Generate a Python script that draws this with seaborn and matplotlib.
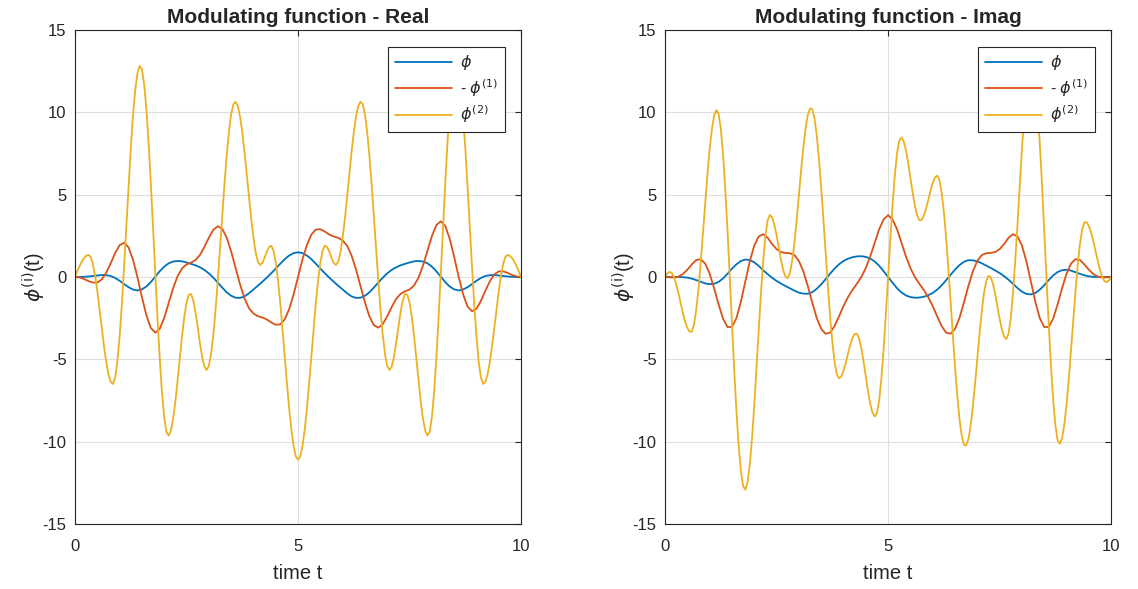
import matplotlib
matplotlib.use("Agg")
import matplotlib.pyplot as plt
import numpy as np
import pandas as pd
import seaborn as sns

# sample times: phi and -phi' every 0.1, phi'' every 0.05 (it moves faster)
t = np.round(np.arange(101) * 0.1, 2)
t_fine = np.round(np.arange(201) * 0.05, 2)

# real part: phi, -phi', phi''
phi_re = [
    0.00, 0.00, 0.01, 0.03, 0.06, 0.09, 0.12, 0.11, 0.06, -0.06,
    -0.23, -0.43, -0.62, -0.76, -0.82, -0.75, -0.58, -0.31, 0.02, 0.35,
    0.63, 0.83, 0.94, 0.97, 0.95, 0.88, 0.80, 0.71, 0.59, 0.43,
    0.22, -0.04, -0.34, -0.64, -0.93, -1.14, -1.26, -1.27, -1.18, -0.99,
    -0.76, -0.53, -0.29, -0.04, 0.23, 0.51, 0.80, 1.08, 1.30, 1.45,
    1.50,
    1.45, 1.30, 1.08, 0.80, 0.51, 0.23, -0.04, -0.29, -0.53, -0.76,
    -0.99, -1.18, -1.27, -1.26, -1.14, -0.93, -0.64, -0.34, -0.04, 0.22,
    0.43, 0.59, 0.71, 0.80, 0.88, 0.95, 0.97, 0.94, 0.83, 0.63,
    0.35, 0.02, -0.31, -0.58, -0.75, -0.82, -0.76, -0.62, -0.43, -0.23,
    -0.06, 0.06, 0.11, 0.12, 0.09, 0.06, 0.03, 0.01, 0.00, 0.00,
]
dphi_re = [
    0.00, -0.03, -0.12, -0.25, -0.34, -0.34, -0.15, 0.26, 0.83, 1.45,
    1.93, 2.08, 1.80, 1.05, -0.02, -1.22, -2.32, -3.10, -3.38, -3.15,
    -2.48, -1.58, -0.68, 0.05, 0.52, 0.76, 0.87, 1.02, 1.33, 1.82,
    2.38, 2.86, 3.08, 2.93, 2.40, 1.55, 0.55, -0.45, -1.30, -1.90,
    -2.22, -2.38, -2.46, -2.58, -2.76, -2.90, -2.88, -2.58, -1.96, -1.07,
    0.00,
    1.07, 1.96, 2.58, 2.88, 2.90, 2.76, 2.58, 2.46, 2.38, 2.22,
    1.90, 1.30, 0.45, -0.55, -1.55, -2.40, -2.93, -3.08, -2.86, -2.38,
    -1.82, -1.33, -1.02, -0.87, -0.76, -0.52, -0.05, 0.68, 1.58, 2.48,
    3.15, 3.38, 3.10, 2.32, 1.22, 0.02, -1.05, -1.80, -2.08, -1.93,
    -1.45, -0.83, -0.26, 0.15, 0.34, 0.34, 0.25, 0.12, 0.03, 0.00,
]
ddphi_re = [
    0.00, 0.34, 0.65, 0.92, 1.14, 1.28, 1.34, 1.23, 0.81, 0.09,
    -0.85, -1.95, -3.10, -4.20, -5.16, -5.90, -6.37, -6.50, -6.12, -5.15,
    -3.63, -1.67, 0.61, 3.04, 5.49, 7.78, 9.80, 11.35, 12.37, 12.82,
    12.61, 11.72, 10.20, 8.16, 5.70, 2.99, 0.20, -2.51, -4.96, -7.01,
    -8.53, -9.42, -9.63, -9.32, -8.61, -7.56, -6.28, -4.91, -3.57, -2.42,
    -1.56, -1.08, -1.03, -1.40, -2.11, -3.03, -4.00, -4.86, -5.44, -5.65,
    -5.41, -4.69, -3.54, -2.03, -0.24, 1.70, 3.70, 5.62, 7.35, 8.80,
    9.87, 10.49, 10.64, 10.37, 9.74, 8.78, 7.59, 6.25, 4.86, 3.54,
    2.39, 1.49, 0.92, 0.73, 0.85, 1.16, 1.54, 1.82, 1.90, 1.59,
    0.89, -0.19, -1.54, -3.11, -4.77, -6.42, -7.95, -9.26, -10.26, -10.89,
    -11.10,
    -10.89, -10.26, -9.26, -7.95, -6.42, -4.77, -3.11, -1.54, -0.19, 0.89,
    1.59, 1.90, 1.82, 1.54, 1.16, 0.85, 0.73, 0.92, 1.49, 2.39,
    3.54, 4.86, 6.25, 7.59, 8.78, 9.74, 10.37, 10.64, 10.49, 9.87,
    8.80, 7.35, 5.62, 3.70, 1.70, -0.24, -2.03, -3.54, -4.69, -5.41,
    -5.65, -5.44, -4.86, -4.00, -3.03, -2.11, -1.40, -1.03, -1.08, -1.56,
    -2.42, -3.57, -4.91, -6.28, -7.56, -8.61, -9.32, -9.63, -9.42, -8.53,
    -7.01, -4.96, -2.51, 0.20, 2.99, 5.70, 8.16, 10.20, 11.72, 12.61,
    12.82, 12.37, 11.35, 9.80, 7.78, 5.49, 3.04, 0.61, -1.67, -3.63,
    -5.15, -6.12, -6.50, -6.37, -5.90, -5.16, -4.20, -3.10, -1.95, -0.85,
    0.09, 0.81, 1.23, 1.34, 1.28, 1.14, 0.92, 0.65, 0.34, 0.00,
]

# imaginary part: phi, -phi', phi''
phi_im = [
    0.00, 0.00, 0.00, 0.00, -0.01, -0.04, -0.10, -0.19, -0.29, -0.39,
    -0.44, -0.41, -0.30, -0.09, 0.19, 0.50, 0.77, 0.97, 1.06, 1.03,
    0.89, 0.67, 0.41, 0.17, -0.05, -0.24, -0.40, -0.55, -0.69, -0.83,
    -0.95, -1.01, -1.02, -0.92, -0.72, -0.45, -0.13, 0.20, 0.51, 0.77,
    0.97, 1.11, 1.20, 1.25, 1.26, 1.22, 1.12, 0.94, 0.68, 0.35,
    0.00,
    -0.35, -0.68, -0.94, -1.12, -1.22, -1.26, -1.25, -1.20, -1.11, -0.97,
    -0.77, -0.51, -0.20, 0.13, 0.45, 0.72, 0.92, 1.02, 1.01, 0.95,
    0.83, 0.69, 0.55, 0.40, 0.24, 0.05, -0.17, -0.41, -0.67, -0.89,
    -1.03, -1.06, -0.97, -0.77, -0.50, -0.19, 0.09, 0.30, 0.41, 0.44,
    0.39, 0.29, 0.19, 0.10, 0.04, 0.01, 0.00, 0.00, 0.00, 0.00,
]
dphi_im = [
    0.00, -0.02, -0.03, 0.02, 0.18, 0.44, 0.76, 1.03, 1.08, 0.81,
    0.20, -0.68, -1.66, -2.53, -3.04, -3.04, -2.50, -1.50, -0.27, 0.95,
    1.91, 2.46, 2.60, 2.38, 2.00, 1.69, 1.51, 1.46, 1.44, 1.33,
    0.98, 0.34, -0.55, -1.55, -2.49, -3.15, -3.45, -3.38, -2.98, -2.39,
    -1.77, -1.23, -0.79, -0.41, 0.00, 0.54, 1.25, 2.08, 2.90, 3.50,
    3.75,
    3.50, 2.90, 2.08, 1.25, 0.54, 0.00, -0.41, -0.79, -1.23, -1.77,
    -2.39, -2.98, -3.38, -3.45, -3.15, -2.49, -1.55, -0.55, 0.34, 0.98,
    1.33, 1.44, 1.46, 1.51, 1.69, 2.00, 2.38, 2.60, 2.46, 1.91,
    0.95, -0.27, -1.50, -2.50, -3.04, -3.04, -2.53, -1.66, -0.68, 0.20,
    0.81, 1.08, 1.03, 0.76, 0.44, 0.18, 0.02, -0.03, -0.02, 0.00,
]
ddphi_im = [
    0.00, 0.21, 0.31, 0.25, 0.00, -0.43, -0.98, -1.58, -2.18, -2.71,
    -3.10, -3.32, -3.32, -2.88, -1.98, -0.70, 0.89, 2.66, 4.48, 6.23,
    7.76, 8.97, 9.79, 10.13, 9.91, 9.00, 7.44, 5.34, 2.83, 0.04,
    -2.83, -5.61, -8.13, -10.23, -11.78, -12.70, -12.92, -12.46, -11.39,
    -9.79,
    -7.77, -5.52, -3.18, -0.96, 0.98, 2.49, 3.44, 3.77, 3.62, 3.18,
    2.53, 1.77, 1.02, 0.40, 0.02, -0.07, 0.25, 0.98, 2.07, 3.44,
    4.95, 6.47, 7.87, 9.02, 9.84, 10.24, 10.19, 9.63, 8.62, 7.19,
    5.44, 3.49, 1.44, -0.55, -2.40, -3.96, -5.14, -5.90, -6.15, -6.04,
    -5.71, -5.23, -4.67, -4.14, -3.71, -3.46, -3.45, -3.74, -4.33, -5.13,
    -6.04, -6.94, -7.71, -8.24, -8.47, -8.28, -7.50, -6.16, -4.36, -2.27,
    0.00,
    2.27, 4.36, 6.16, 7.50, 8.28, 8.47, 8.24, 7.71, 6.94, 6.04,
    5.13, 4.33, 3.74, 3.45, 3.46, 3.71, 4.14, 4.67, 5.23, 5.71,
    6.04, 6.15, 5.90, 5.14, 3.96, 2.40, 0.55, -1.44, -3.49, -5.44,
    -7.19, -8.62, -9.63, -10.19, -10.24, -9.84, -9.02, -7.87, -6.47,
    -4.95,
    -3.44, -2.07, -0.98, -0.25, 0.07, -0.02, -0.40, -1.02, -1.77, -2.53,
    -3.18, -3.62, -3.77, -3.44, -2.49, -0.98, 0.96, 3.18, 5.52, 7.77,
    9.79, 11.39, 12.46, 12.92, 12.70, 11.78, 10.23, 8.13, 5.61, 2.83,
    -0.04, -2.83, -5.34, -7.44, -9.00, -9.91, -10.13, -9.79, -8.97, -7.76,
    -6.23, -4.48, -2.66, -0.89, 0.70, 1.98, 2.88, 3.32, 3.32, 3.10,
    2.71, 2.18, 1.58, 0.98, 0.43, 0.00, -0.25, -0.31, -0.21, 0.00,
]

titles = ['Modulating function - Real', 'Modulating function - Imag']
labels = [r'$\phi$', r'- $\phi^{(1)}$', r'$\phi^{(2)}$']
colors = ['#0072BD', '#D95319', '#EDB120']
x_ticks = [0, 5, 10]
y_ticks = [-15, -10, -5, 0, 5, 10, 15]

sns.set_style('white')
plt.rcParams['font.family'] = ['Liberation Sans', 'DejaVu Sans']
plt.rcParams['mathtext.fontset'] = 'dejavusans'
plt.rcParams['axes.unicode_minus'] = False

fig = plt.figure(figsize=(11.38, 5.89), dpi=100)
axes = [fig.add_axes([0.0659, 0.1104, 0.392, 0.8387]),
        fig.add_axes([0.5844, 0.1104, 0.392, 0.8387])]

parts = [(phi_re, dphi_re, ddphi_re), (phi_im, dphi_im, ddphi_im)]

for ax, title, (p0, p1, p2) in zip(axes, titles, parts):
    curves = [
        pd.DataFrame({'t': t, 'y': p0}),
        pd.DataFrame({'t': t, 'y': p1}),
        pd.DataFrame({'t': t_fine, 'y': p2}),
    ]
    for lab, col, df in zip(labels, colors, curves):
        sns.lineplot(data=df, x='t', y='y', color=col, label=lab,
                     linewidth=1.3, ax=ax, estimator=None)

    ax.set_xlim(0, 10)
    ax.set_ylim(-15, 15)
    ax.set_xticks(x_ticks)
    ax.set_yticks(y_ticks)
    ax.grid(True, color='#dedede', linewidth=0.8)
    ax.set_axisbelow(True)
    ax.tick_params(direction='in', length=4, width=0.8, top=True,
                   right=True, labelsize=12, colors='#262626',
                   labelcolor='#262626')
    ax.tick_params(axis='x', pad=11)
    ax.tick_params(axis='y', pad=6)
    for sp in ax.spines.values():
        sp.set_color('#262626')
        sp.set_linewidth(0.8)

    ax.set_title(title, fontsize=15, fontweight='bold', pad=5)
    ax.set_xlabel('time t', fontsize=14.5, color='#262626', labelpad=7)
    ax.set_ylabel(r'$\phi^{(\mathrm{i})}$(t)', fontsize=14.5,
                  color='#262626', labelpad=-4)

    leg = ax.legend(loc='upper right', bbox_to_anchor=(0.964, 0.966),
                    borderaxespad=0, fontsize=11.5, handlelength=3.6,
                    handletextpad=0.5, labelspacing=0.3, fancybox=False,
                    framealpha=1, edgecolor='#262626')
    leg.get_frame().set_linewidth(0.8)

fig.savefig('out.png', dpi=100)
